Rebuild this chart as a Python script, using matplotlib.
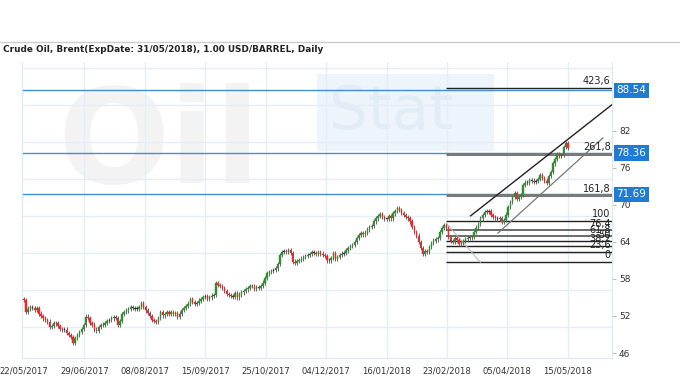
import numpy as np
import matplotlib.pyplot as plt
from matplotlib.patches import Rectangle

# daily closes, one per trading bar
closes = [
    54.6, 52.6, 53.2, 53.4, 53.3, 53.0, 53.3, 52.4, 52.0, 51.6,
    51.3, 51.1, 50.2, 50.4, 50.9, 50.8, 50.4, 49.9, 49.7, 49.8,
    49.3, 48.9, 48.6, 47.6, 48.4, 48.9, 49.4, 49.9, 50.5, 51.9,
    51.7, 50.9, 50.6, 49.8, 49.6, 50.2, 50.5, 50.6, 50.9, 51.2,
    51.3, 51.6, 51.8, 51.7, 50.6, 51.2, 52.3, 52.6, 52.9, 53.1,
    53.4, 53.3, 53.2, 53.1, 53.4, 54.1, 53.4, 52.9, 52.5, 52.0,
    51.4, 51.2, 51.0, 51.7, 52.6, 52.1, 52.3, 52.6, 52.4, 52.6,
    52.3, 52.5, 51.8, 52.4, 53.0, 53.3, 53.6, 54.0, 54.8, 54.3,
    54.0, 54.1, 54.5, 54.8, 55.1, 55.2, 54.8, 55.0, 55.3, 55.4,
    57.3, 57.0, 56.8, 56.5, 56.0, 55.6, 55.4, 55.2, 55.1, 55.7,
    55.0, 55.5, 55.8, 56.0, 56.3, 56.5, 56.8, 56.9, 56.4, 56.6,
    56.5, 56.9, 57.4, 58.1, 58.9, 59.1, 59.3, 59.4, 59.7, 60.4,
    61.9, 62.4, 62.5, 62.3, 62.6, 62.2, 60.8, 60.6, 60.9, 61.1,
    61.3, 61.5, 61.7, 61.9, 62.0, 62.3, 62.2, 62.0, 62.4, 62.1,
    61.9, 61.7, 61.0, 61.0, 61.4, 62.2, 61.2, 61.5, 61.9, 62.1,
    62.2, 62.6, 63.0, 63.3, 63.5, 64.0, 64.6, 65.1, 65.4, 65.2,
    65.5, 66.0, 66.4, 66.6, 67.3, 67.8, 68.2, 68.5, 68.0, 67.7,
    67.7, 68.2, 67.8, 68.6, 69.0, 69.4, 69.1, 68.7, 68.3, 68.0,
    67.8, 67.3, 66.4, 65.6, 65.0, 64.0, 63.0, 62.0, 62.5, 62.3,
    63.2, 63.8, 64.2, 64.4, 64.6, 65.6, 66.2, 66.7, 66.2, 64.8,
    64.1, 64.0, 64.6, 64.3, 63.6, 63.8, 64.1, 64.4, 64.6, 64.7,
    64.8, 65.6, 66.3, 66.9, 67.8, 68.3, 68.8, 68.9, 69.0, 68.3,
    68.0, 67.8, 67.7, 67.9, 67.2, 67.5, 68.4, 69.6, 70.4, 71.2,
    71.9, 70.9, 71.2, 71.6, 73.2, 73.6, 73.5, 74.0, 73.9, 73.7,
    73.8, 74.2, 74.8, 74.3, 73.9, 73.5, 74.6, 75.3, 76.7, 77.4,
    78.2, 77.9, 78.0, 79.3, 80.0, 79.2,
]
first_open = 54.8

date_labels = ["22/05/2017", "29/06/2017", "08/08/2017", "15/09/2017",
               "25/10/2017", "04/12/2017", "16/01/2018", "23/02/2018",
               "05/04/2018", "15/05/2018"]
price_ticks = [46, 52, 58, 64, 70, 76, 82]

# horizontal price levels with their tags
level_values = [88.54, 78.36, 71.69]

# fibonacci extension: 0 and 100 levels, ratios
fib_low, fib_high = 60.8, 67.45
fib_ratios = [0, 23.6, 38.2, 50, 61.8, 76.4, 100, 161.8, 261.8, 423.6]
fib_start = 197.8

# trend channel (bar index, price)
upper_channel = [(209.4, 68.2), (275.7, 86.2)]
lower_channel = [(222.2, 65.4), (271.4, 80.8)]
fib_anchor = [(198.3, 66.9), (214.0, 60.7)]

n = len(closes)
x = np.arange(n)
c = np.array(closes)
o = np.concatenate([[first_open], c[:-1]])
hi = np.maximum(o, c) + 0.35
lo = np.minimum(o, c) - 0.35

fig = plt.figure(figsize=(6.8, 3.8), dpi=100)
fig.patch.set_facecolor("white")
ax = fig.add_axes([22/680, 1 - 358/380, 590/680, 296/380])

XMAX = 275.7
ax.set_xlim(-0.9, XMAX)
ax.set_ylim(45.2, 93.1)

# watermark
ax.text(0.06, 0.93, "Oil", transform=ax.transAxes, fontsize=95, fontweight="bold",
        color="#f3f3f3", va="top", ha="left", zorder=0)
ax.add_patch(Rectangle((0.50, 0.70), 0.30, 0.26, transform=ax.transAxes,
                       facecolor="#eef4fb", edgecolor="none", zorder=0))
ax.text(0.52, 0.83, "Stat", transform=ax.transAxes, fontsize=44,
        color="#e2ecf7", va="center", ha="left", zorder=0)

# grid
step = (n - 1) / (len(date_labels) - 1)
tick_pos = np.arange(len(date_labels)) * step
for t in tick_pos[1:]:
    ax.axvline(t, color="#e4eef8", lw=1, zorder=1)
for g in np.arange(50.2, 93, 6):
    ax.axhline(g, color="#e4eef8", lw=1, zorder=1)

# blue price levels
for v in level_values:
    ax.axhline(v, color="#3f8fdc", lw=1, zorder=2)

# fibonacci lines and labels
for r in fib_ratios:
    lvl = fib_low + (fib_high - fib_low) * r / 100
    if r in (161.8, 261.8):
        col, lw = "#7a7a7a", 2.2
    elif r in (61.8, 76.4):
        col, lw = "#6a6a6a", 1.4
    else:
        col, lw = "#222222", 1.0
    ax.plot([fib_start, XMAX], [lvl, lvl], color=col, lw=lw, zorder=3,
            solid_capstyle="butt")
    txt = ("%g" % r).replace(".", ",")
    ax.text(XMAX - 0.6, lvl + 0.25, txt, ha="right", va="bottom",
            fontsize=7, color="#222222", zorder=6)

ax.plot(*zip(*fib_anchor), color="#bbbbbb", lw=0.8, zorder=3)
ax.plot(*zip(*upper_channel), color="#222222", lw=1.0, zorder=3)
ax.plot(*zip(*lower_channel), color="#777777", lw=0.9, zorder=3)

# candles
up = c >= o
body_col = np.where(up, "#2f8f2f", "#ff2020")
small = np.abs(c - o) < 0.12
body_col = np.where(small, "#333333", body_col)
ax.vlines(x, lo, hi, color="#666666", lw=0.7, zorder=4)
ax.bar(x, np.maximum(np.abs(c - o), 0.12), bottom=np.minimum(o, c), width=0.65,
       color=body_col, edgecolor=body_col, linewidth=0.3, zorder=5)

# axes styling
ax.set_xticks(tick_pos)
ax.set_xticklabels(date_labels, fontsize=6.1, color="#333333")
ax.yaxis.tick_right()
ax.set_yticks(price_ticks)
ax.set_yticklabels([str(p) for p in price_ticks], fontsize=6.5, color="#333333")
ax.tick_params(axis="x", length=0, pad=6)
ax.tick_params(axis="y", length=3, color="#bbbbbb", pad=2)
ax.spines["top"].set_visible(False)
for s in ["left", "right", "bottom"]:
    ax.spines[s].set_color("#dbe7f3")

# level tags on the right
for v in level_values:
    ax.annotate("%.2f" % v, xy=(1.0, v), xycoords=("axes fraction", "data"),
                xytext=(3, 0), textcoords="offset points", ha="left", va="center",
                fontsize=7.5, color="white",
                bbox=dict(boxstyle="square,pad=0.25", fc="#1f7bd6", ec="none"),
                zorder=7, annotation_clip=False)

# header
fig.add_artist(plt.Line2D([0, 1], [1 - 42/380, 1 - 42/380], color="#cccccc", lw=1))
fig.text(3/680, 1 - 50/380, "Crude Oil, Brent(ExpDate: 31/05/2018), 1.00 USD/BARREL, Daily",
         fontsize=6.4, fontweight="bold", color="#222222", va="center", ha="left")

fig.savefig("out.png", dpi=100)
